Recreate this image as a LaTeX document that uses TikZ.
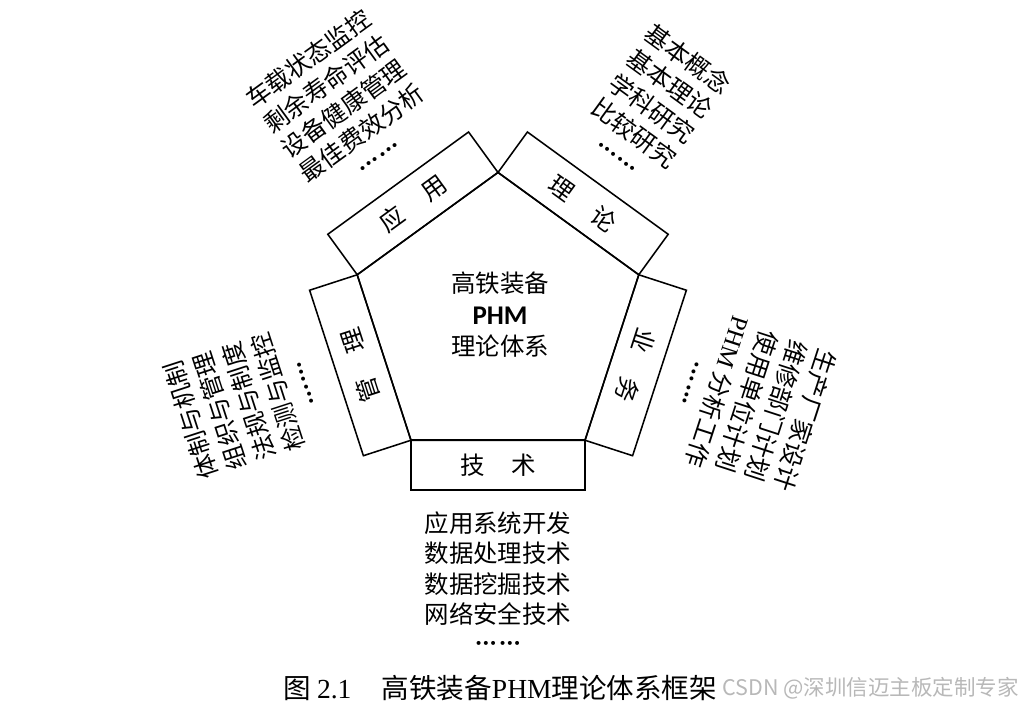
\documentclass[tikz,border=0pt]{standalone}
\usepackage{fontspec}
\setmainfont{Noto Sans CJK SC}
\newfontfamily\latfont{Liberation Serif}
\newfontfamily\calfont{Carlito}
\usepackage{tikz}
\usetikzlibrary{shapes.geometric}
\usetikzlibrary{positioning}
\newcommand{\onedot}{\makebox[0.3em]{\latfont\bfseries ·}}
\newcommand{\sixdots}{\raisebox{0.1em}{\onedot\onedot\onedot\hspace{0.08em}\onedot\onedot\onedot}}
\tikzset{
  sidebox/.style = {draw=black, line width=1.1pt, minimum width=4.35cm, minimum height=1.25cm, inner sep=0pt, font=\fontsize{17.4}{21.7}\selectfont},
  itemtext/.style = {align=center, inner sep=0pt, font=\fontsize{17.4}{21.7}\selectfont}
}

\begin{document}
\begin{tikzpicture}
\useasboundingbox (-12.45,-9.7625) rectangle (13.1,8.0125);
% pentagon core
\node [regular polygon, regular polygon sides=5, minimum size=7.4cm, inner sep=0pt, draw=black, line width=1.1pt] (core) at (0, 0) {};
\node [itemtext, font=\fontsize{17.4}{22.4}\selectfont] (title) at (0.05, 0.14) {高铁装备\\{\calfont\bfseries\fontsize{19.2}{22.4}\selectfont PHM}\\理论体系};
% five sides
\node [sidebox, rotate=36] (app) at (126:3.62) {应\hspace{1.1em}用};
\node [sidebox, rotate=-36] (theory) at (54:3.62) {理\hspace{1.1em}论};
\node [sidebox, rotate=-108] (business) at (-18:3.62) {业\hspace{1.1em}务};
\node [sidebox, line width=1.6pt] (tech) at (270:3.62) {技\hspace{1.1em}术};
\node [sidebox, rotate=108] (manage) at (198:3.62) {管\hspace{1.1em}理};
% item lists
\node [itemtext, rotate=36] (applist) at (126:6.58) {车载状态监控\\剩余寿命评估\\设备健康管理\\最佳费效分析\\\sixdots};
\node [itemtext, rotate=-36] (theorylist) at (54:6.58) {基本概念\\基本理论\\学科研究\\比较研究\\\sixdots};
\node [itemtext, rotate=-108] (businesslist) at (-18:6.58) {生产厂家设计\\维修部门计划\\使用单位计划\\{\latfont PHM} 分析工作\\\sixdots};
\node [itemtext] (techlist) at (270:6.56) {应用系统开发\\数据处理技术\\数据挖掘技术\\网络安全技术\\\sixdots};
\node [itemtext, rotate=108] (managelist) at (198:6.58) {体制与机制\\组织与管理\\法规与制度\\检测与监控\\\sixdots};
% caption
\node [anchor=west, inner sep=0pt, font=\fontsize{19.6}{23}\selectfont] (caption) at (-5.375, -9.19) {图 {\latfont 2.1}\hspace{1.1em}高铁装备{\latfont PHM}理论体系框架};
\node [right=0.12cm of caption, inner sep=0pt, text=black!28, font=\fontsize{15.3}{18}\selectfont] (mark) {CSDN @深圳信迈主板定制专家};
\end{tikzpicture}
\end{document}
